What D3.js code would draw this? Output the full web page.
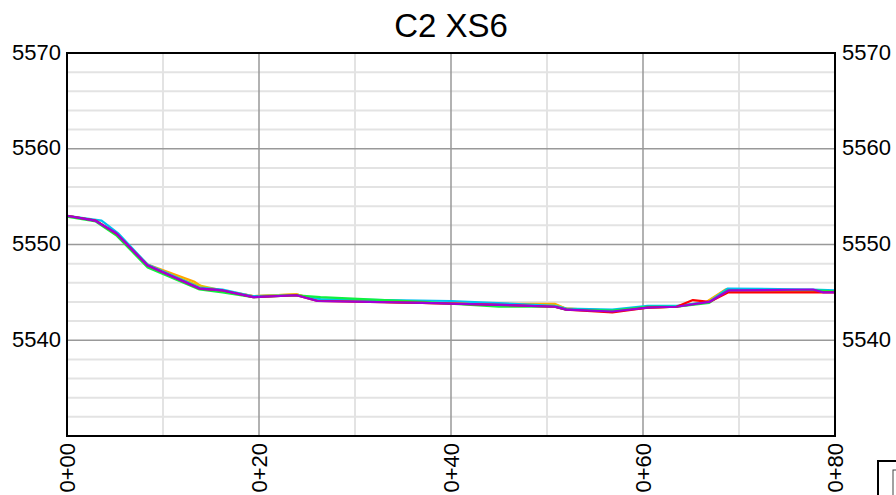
<!DOCTYPE html>
<html>
<head>
<meta charset="utf-8">
<script src="https://cdn.jsdelivr.net/npm/d3@7"></script>
<style>
  html, body { margin: 0; padding: 0; background: #fff; }
  svg { display: block; font-family: "Liberation Sans", Arial, sans-serif; }
</style>
</head>
<body>
<svg id="chart" width="896" height="495"></svg>
<script>
const title = "C2 XS6";
const yTicks = [5540, 5550, 5560, 5570];
const xTicks = [0, 20, 40, 60, 80];
const xTickLabels = ["0+00", "0+20", "0+40", "0+60", "0+80"];

const stationsOrange = [0, 3.0, 5.2, 8.4, 13.3, 14.2, 16.2, 19.4, 23.9, 26.1, 37, 45, 50.8, 52.0, 56.8, 60.5, 63.5, 66.6, 68.6, 77.7, 80];
const elevOrange     = [5553.0, 5552.5, 5551.0, 5547.9, 5546.1, 5545.5, 5545.2, 5544.6, 5544.8, 5544.2, 5543.9, 5543.8, 5543.8, 5543.3, 5543.1, 5543.4, 5543.5, 5544.0, 5545.3, 5545.2, 5545.1];

const stationsYellow = [0, 3.0, 5.2, 8.4, 13.5, 16.2, 19.4, 23.9, 26.1, 37, 45, 50.8, 52.0, 56.8, 60.5, 63.5, 66.7, 68.7, 77.7, 80];
const elevYellow     = [5553.0, 5552.5, 5551.0, 5547.8, 5545.8, 5545.2, 5544.6, 5544.8, 5544.2, 5543.9, 5543.8, 5543.7, 5543.3, 5543.1, 5543.4, 5543.5, 5544.0, 5545.3, 5545.2, 5545.1];

const stationsCyan = [0, 3.6, 5.4, 8.4, 13.8, 16.2, 19.4, 23.9, 26.4, 40, 50.8, 52.0, 56.8, 60.5, 63.5, 66.9, 68.8, 77.7, 80];
const elevCyan     = [5553.0, 5552.5, 5551.1, 5547.9, 5545.5, 5545.3, 5544.6, 5544.7, 5544.3, 5544.1, 5543.6, 5543.3, 5543.2, 5543.6, 5543.6, 5544.0, 5545.4, 5545.3, 5545.2];

const stationsGreen = [0, 3.0, 5.2, 8.4, 13.8, 16.2, 19.4, 23.9, 26.4, 37, 45, 50.8, 52.0, 56.8, 60.5, 63.5, 66.9, 68.8, 77.7, 80];
const elevGreen     = [5552.9, 5552.4, 5550.9, 5547.6, 5545.3, 5545.0, 5544.5, 5544.7, 5544.5, 5544.0, 5543.5, 5543.5, 5543.2, 5543.1, 5543.5, 5543.5, 5543.9, 5545.2, 5545.2, 5545.1];

const stationsRed = [0, 3.0, 5.2, 8.4, 13.8, 16.2, 19.4, 23.9, 26.1, 37, 45, 50.8, 52.0, 56.8, 60.5, 63.5, 65.2, 66.9, 68.9, 77.7, 80];
const elevRed     = [5553.0, 5552.5, 5551.1, 5547.8, 5545.4, 5545.2, 5544.5, 5544.7, 5544.1, 5543.9, 5543.7, 5543.5, 5543.2, 5542.9, 5543.4, 5543.5, 5544.2, 5544.0, 5545.0, 5545.0, 5545.0];

const stationsPurple = [0, 2.9, 5.1, 8.4, 13.8, 16.2, 19.4, 23.9, 26.1, 37, 45, 50.8, 52.0, 56.8, 60.5, 63.5, 66.9, 68.9, 77.7, 78.8, 80];
const elevPurple     = [5553.0, 5552.5, 5551.2, 5547.8, 5545.4, 5545.2, 5544.5, 5544.7, 5544.1, 5543.9, 5543.7, 5543.5, 5543.2, 5543.0, 5543.4, 5543.5, 5544.0, 5545.2, 5545.3, 5545.0, 5545.0];

const series = [
  { name: "Orange", xs: stationsOrange, ys: elevOrange, color: "#ffa500" },
  { name: "Yellow", xs: stationsYellow, ys: elevYellow, color: "#e8c400" },
  { name: "Cyan", xs: stationsCyan, ys: elevCyan, color: "#00c0f0" },
  { name: "Green", xs: stationsGreen, ys: elevGreen, color: "#10f040" },
  { name: "Red", xs: stationsRed, ys: elevRed, color: "#ff0000" },
  { name: "Purple", xs: stationsPurple, ys: elevPurple, color: "#a000d8" }
];

const svg = d3.select("#chart");
const L = 67, R = 835, T = 53, B = 436;
const x = d3.scaleLinear().domain([0, 80]).range([L, R]);
const y = d3.scaleLinear().domain([5530, 5570]).range([B, T]);

// minor grid
const g = svg.append("g");
g.selectAll("line.ymin").data(d3.range(5532, 5570, 2).filter(v => v % 10 !== 0))
  .join("line").attr("x1", L).attr("x2", R).attr("y1", d => y(d)).attr("y2", d => y(d))
  .attr("stroke", "#e3e3e3").attr("stroke-width", 2);
g.selectAll("line.xmin").data([10, 30, 50, 70])
  .join("line").attr("y1", T).attr("y2", B).attr("x1", d => x(d)).attr("x2", d => x(d))
  .attr("stroke", "#e3e3e3").attr("stroke-width", 2);
// major grid
svg.append("g").selectAll("line").data(yTicks.filter(v => v !== 5570))
  .join("line").attr("x1", L).attr("x2", R).attr("y1", d => y(d)).attr("y2", d => y(d))
  .attr("stroke", "#999").attr("stroke-width", 1.5);
svg.append("g").selectAll("line").data(xTicks.filter(v => v !== 0 && v !== 80))
  .join("line").attr("y1", T).attr("y2", B).attr("x1", d => x(d)).attr("x2", d => x(d))
  .attr("stroke", "#999").attr("stroke-width", 1.5);

// lines
const line = d3.line().x(d => x(d[0])).y(d => y(d[1]));
svg.append("g").selectAll("path").data(series).join("path")
  .attr("d", s => line(s.xs.map((v, i) => [v, s.ys[i]])))
  .attr("fill", "none").attr("stroke", s => s.color).attr("stroke-width", 2.2)
  .attr("stroke-linejoin", "round");

// frame
svg.append("rect").attr("x", L).attr("y", T).attr("width", R - L).attr("height", B - T)
  .attr("fill", "none").attr("stroke", "#000").attr("stroke-width", 2);

// y labels
const yl = svg.append("g").attr("font-size", 22).attr("fill", "#000");
yl.selectAll("text.l").data(yTicks).join("text")
  .attr("x", L - 6).attr("y", d => y(d)).attr("dy", "0.3em")
  .attr("text-anchor", "end").text(d => d);
yl.selectAll("text.r").data(yTicks).join("text")
  .attr("x", R + 7).attr("y", d => y(d)).attr("dy", "0.3em")
  .attr("text-anchor", "start").text(d => d);

// x labels
svg.append("g").attr("font-size", 22).selectAll("text").data(xTicks).join("text")
  .attr("transform", d => `translate(${x(d)},${B + 7}) rotate(-90)`)
  .attr("text-anchor", "end").attr("dy", "0.35em")
  .text((d, i) => xTickLabels[i]);

// title
svg.append("text").attr("x", (L + R) / 2).attr("y", 37).attr("text-anchor", "middle")
  .attr("font-size", 33).text(title);

// legend box (cut off)
svg.append("rect").attr("x", 878).attr("y", 461).attr("width", 40).attr("height", 40)
  .attr("fill", "#fff").attr("stroke", "#000").attr("stroke-width", 2);
svg.append("rect").attr("x", 893).attr("y", 470).attr("width", 10).attr("height", 30)
  .attr("fill", "#fff").attr("stroke", "#444").attr("stroke-width", 1);
</script>
</body>
</html>
